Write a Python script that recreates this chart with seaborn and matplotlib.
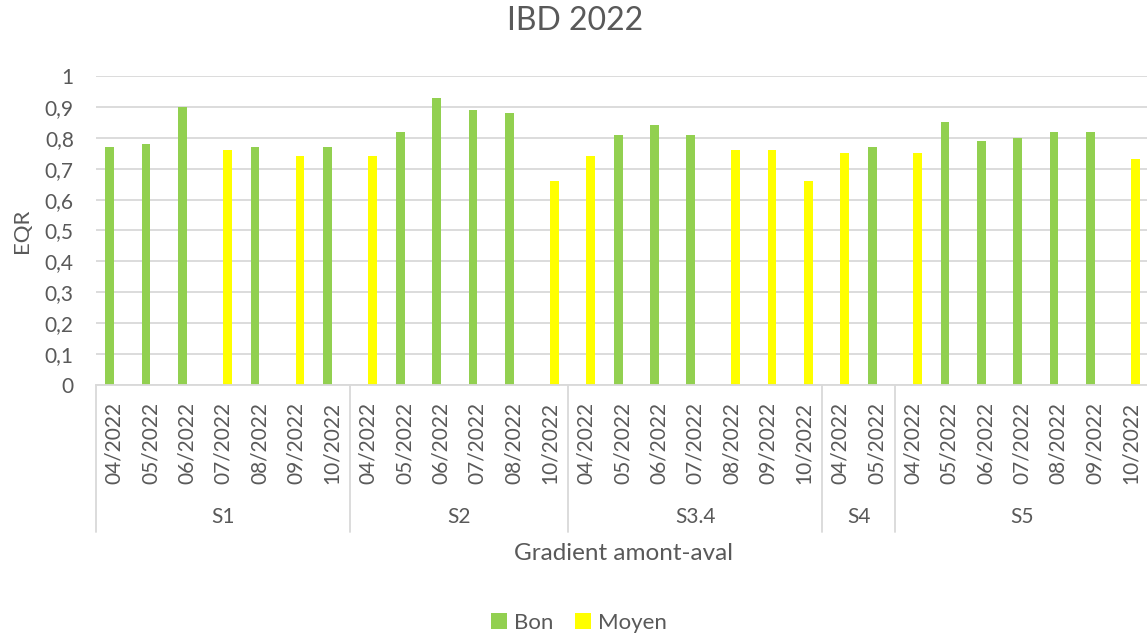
import pandas as pd
import matplotlib.pyplot as plt
import seaborn as sns

# stations (gradient amont-aval) and sampling months
stations = ["S1"] * 7 + ["S2"] * 6 + ["S3.4"] * 7 + ["S4"] * 2 + ["S5"] * 7
months = ["04/2022", "05/2022", "06/2022", "07/2022", "08/2022", "09/2022", "10/2022",
          "04/2022", "05/2022", "06/2022", "07/2022", "08/2022", "10/2022",
          "04/2022", "05/2022", "06/2022", "07/2022", "08/2022", "09/2022", "10/2022",
          "04/2022", "05/2022",
          "04/2022", "05/2022", "06/2022", "07/2022", "08/2022", "09/2022", "10/2022"]
eqr = [0.77, 0.78, 0.90, 0.76, 0.77, 0.74, 0.77,
       0.74, 0.82, 0.93, 0.89, 0.88, 0.66,
       0.74, 0.81, 0.84, 0.81, 0.76, 0.76, 0.66,
       0.75, 0.77,
       0.75, 0.85, 0.79, 0.80, 0.82, 0.82, 0.73]
etat = ["Bon", "Bon", "Bon", "Moyen", "Bon", "Moyen", "Bon",
        "Moyen", "Bon", "Bon", "Bon", "Bon", "Moyen",
        "Moyen", "Bon", "Bon", "Bon", "Moyen", "Moyen", "Moyen",
        "Moyen", "Bon",
        "Moyen", "Bon", "Bon", "Bon", "Bon", "Bon", "Moyen"]

keys = [f"{s} {m}" for s, m in zip(stations, months)]
rows = []
for k, v, e in zip(keys, eqr, etat):
    for cls in ["Bon", "Moyen"]:
        rows.append({"key": k, "EQR": v if cls == e else 0.0, "etat": cls})
df = pd.DataFrame(rows)

sns.set_style("white")
plt.rcParams["font.family"] = ["Lato", "DejaVu Sans"]
grey = "#595959"

fig = plt.figure(figsize=(11.47, 6.37), dpi=100)
ax = fig.add_axes([96 / 1147, 1 - 385 / 637, 1053 / 1147, 309 / 637])

sns.barplot(data=df, x="key", y="EQR", hue="etat", order=keys,
            hue_order=["Bon", "Moyen"], palette={"Bon": "#92D050", "Moyen": "#FFFF00"},
            width=0.48, saturation=1, linewidth=0, errorbar=None, ax=ax, legend=True)

ax.set_ylim(0, 1)
ax.set_xlim(-0.5, len(keys) - 0.5)
ax.set_yticks([i / 10 for i in range(11)])
ax.set_yticklabels(["0"] + [f"0,{i}" for i in range(1, 10)] + ["1"], color=grey, fontsize=15)
ax.yaxis.grid(True, color="#d9d9d9", linewidth=1.3)
ax.set_axisbelow(True)
for side in ["top", "right", "left"]:
    ax.spines[side].set_visible(False)
ax.spines["bottom"].set_color("#d9d9d9")
ax.spines["bottom"].set_linewidth(1.3)
ax.tick_params(axis="both", length=0)
ax.tick_params(axis="y", pad=16)

ax.set_xticks(range(len(keys)))
ax.set_xticklabels(months, rotation=90, color=grey, fontsize=15)
ax.tick_params(axis="x", pad=12)
ax.set_xlabel("")
ax.set_ylabel("EQR", color=grey, fontsize=16, labelpad=9)

# group separators and station labels
trans = ax.get_xaxis_transform()
bounds = [-0.5]
groups = []
for s in stations:
    if not groups or groups[-1] != s:
        groups.append(s)
for g in groups:
    idx = [i for i, s in enumerate(stations) if s == g]
    ax.text((idx[0] + idx[-1]) / 2, -0.428, g, transform=trans, ha="center", va="center",
            color=grey, fontsize=15)
    bounds.append(idx[-1] + 0.5)
for b in bounds:
    ax.plot([b, b], [0, -0.476], transform=trans, color="#d9d9d9", linewidth=1.3, clip_on=False)

fig.text(624 / 1147, 1 - 553 / 637, "Gradient amont-aval", ha="center", va="center",
         color=grey, fontsize=17.5)
fig.text(575 / 1147, 1 - 21 / 637, "IBD 2022", ha="center", va="center", color=grey, fontsize=23)

handles, labels = ax.get_legend_handles_labels()
ax.get_legend().remove()
fig.legend(handles, labels, loc="center", bbox_to_anchor=(579 / 1147, 1 - 623 / 637), ncol=2,
           frameon=False, handlelength=0.72, handleheight=0.72, handletextpad=0.3,
           columnspacing=1.0, labelcolor=grey, fontsize=16)

fig.savefig("out.png", dpi=100)
